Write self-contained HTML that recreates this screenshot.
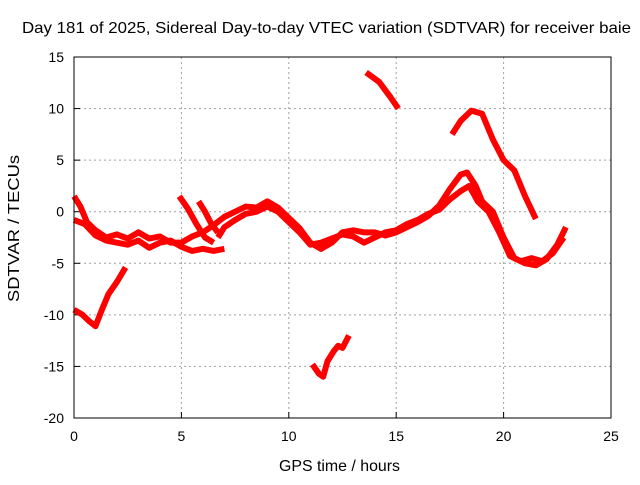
<!DOCTYPE html>
<html><head><meta charset="utf-8"><style>
body{margin:0;background:#fff;width:640px;height:480px;overflow:hidden}
text{font-family:"Liberation Sans",sans-serif;font-size:14px;fill:#000}
.tt{font-size:16px}
</style></head><body>
<svg id="chart" width="640" height="480" viewBox="0 0 640 480">
<rect x="0" y="0" width="640" height="480" fill="#fff"/>
<g id="grid"></g><g id="ticks"></g><g id="series"></g>
<rect x="74" y="57" width="537" height="361" fill="none" stroke="#000" stroke-width="1"/>
<text class="tt" x="22" y="33" textLength="609" lengthAdjust="spacingAndGlyphs">Day 181 of 2025, Sidereal Day-to-day VTEC variation (SDTVAR) for receiver baie</text>
<text class="tt" x="279" y="471" textLength="121" lengthAdjust="spacingAndGlyphs">GPS time / hours</text>
<text class="tt" transform="translate(19,302) rotate(-90)" textLength="147" lengthAdjust="spacingAndGlyphs">SDTVAR / TECUs</text>
</svg>
<script>
const xTicks=[0,5,10,15,20,25];
const yTicks=[15,10,5,0,-5,-10,-15,-20];
const seriesA=[[0,-9.5],[0.4,-10],[0.7,-10.6],[1.0,-11.1],[1.3,-9.5],[1.6,-8],[2.0,-6.8],[2.4,-5.4]];
const seriesB=[[0,1.5],[0.3,0.5],[0.6,-1],[1,-1.8],[1.5,-2.5],[2,-2.2],[2.5,-2.6],[3,-2],[3.5,-2.6],[4,-2.4],[4.5,-3],[5,-3],[5.5,-2.4],[6,-2],[6.5,-1.3],[7,-0.5],[7.5,0],[8,0.5],[8.5,0.4],[9,1],[9.5,0.4],[10,-0.6],[10.5,-1.6],[11,-3],[11.5,-3.6],[12,-3],[12.5,-2],[13,-1.8],[13.5,-2],[14,-2],[14.5,-2.3],[15,-2],[15.5,-1.5],[16,-1],[16.5,-0.4],[17,0.6],[17.5,2.2],[18,3.6],[18.3,3.8],[18.7,2.5],[19,1],[19.5,0],[20,-2.5],[20.5,-4.5],[21,-5],[21.5,-5.2],[22,-4.6],[22.5,-3.2],[22.9,-1.5]];
const seriesC=[[0,-0.8],[0.5,-1.2],[1,-2.3],[1.5,-2.8],[2,-3],[2.5,-3.2],[3,-2.8],[3.5,-3.5],[4,-3],[4.5,-2.8],[5,-3.4],[5.5,-3.8],[6,-3.6],[6.5,-3.8],[7,-3.6]];
const seriesD=[[6.7,-2.5],[7,-1.5],[7.5,-0.8],[8,-0.2],[8.5,0],[9,0.5],[9.5,0],[10,-1],[10.5,-2],[11,-3.2],[11.5,-3],[12,-2.6],[12.5,-2.2],[13,-2.4],[13.5,-3],[14,-2.5],[14.5,-2],[15,-1.8],[15.5,-1.2],[16,-0.8],[16.5,-0.2],[17,0.2],[17.5,1.2],[18,2],[18.4,2.5],[18.8,1],[19.3,0],[19.8,-2],[20.3,-4.3],[20.8,-4.8],[21.3,-4.5],[21.8,-4.8],[22.3,-4],[22.8,-2.5]];
const seriesE=[[4.9,1.5],[5.3,0.3],[5.7,-1.2],[6.1,-2.5],[6.5,-3]];
const seriesF=[[5.8,1],[6.1,0],[6.4,-1.2],[6.7,-2]];
const seriesG=[[13.6,13.5],[14.2,12.6],[14.7,11.2],[15.1,10]];
const seriesH=[[17.6,7.5],[18,8.8],[18.5,9.8],[19,9.5],[19.5,7],[20,5],[20.5,4],[21,1.5],[21.5,-0.7]];
const seriesI=[[11.1,-14.8],[11.4,-15.7],[11.6,-16],[11.8,-14.5],[12.1,-13.5],[12.3,-13],[12.5,-13.2],[12.8,-12]];
const allSeries=[seriesA,seriesB,seriesC,seriesD,seriesE,seriesF,seriesG,seriesH,seriesI];
const NS='http://www.w3.org/2000/svg';
const xs=h=>74+h*537/25;
const ys=v=>57+(15-v)*361/35;
const grid=document.getElementById('grid'),ticks=document.getElementById('ticks'),ser=document.getElementById('series');
function mk(t,a,p){const e=document.createElementNS(NS,t);for(const k in a)e.setAttribute(k,a[k]);p.appendChild(e);return e;}
xTicks.forEach(t=>{const x=xs(t);
 if(t>0&&t<25){const g=mk('line',{x1:x,y1:57,x2:x,y2:418,stroke:'#a0a0a0','stroke-dasharray':'2,3'},grid);
 
 }
 const tk=mk('line',{x1:x,y1:418,x2:x,y2:412,stroke:'#000'},ticks);
 
 
 const l=mk('text',{x:x,y:441,'text-anchor':'middle'},ticks);l.textContent=t;
 
 });
yTicks.forEach(t=>{const y=ys(t);
 if(t<15&&t>-20){const g=mk('line',{x1:74,y1:y,x2:611,y2:y,stroke:'#a0a0a0','stroke-dasharray':'2,3'},grid);
 
 }
 const tk=mk('line',{x1:74,y1:y,x2:80,y2:y,stroke:'#000'},ticks);
 
 
 const l=mk('text',{x:64,y:y+5,'text-anchor':'end'},ticks);l.textContent=t;
 
 });
allSeries.forEach((s,i)=>{const p=mk('polyline',{points:s.map(d=>xs(d[0])+','+ys(d[1])).join(' '),fill:'none',stroke:'#ff0000','stroke-width':6,'stroke-linejoin':'round'},ser);
 
 });
</script>
</body></html>
